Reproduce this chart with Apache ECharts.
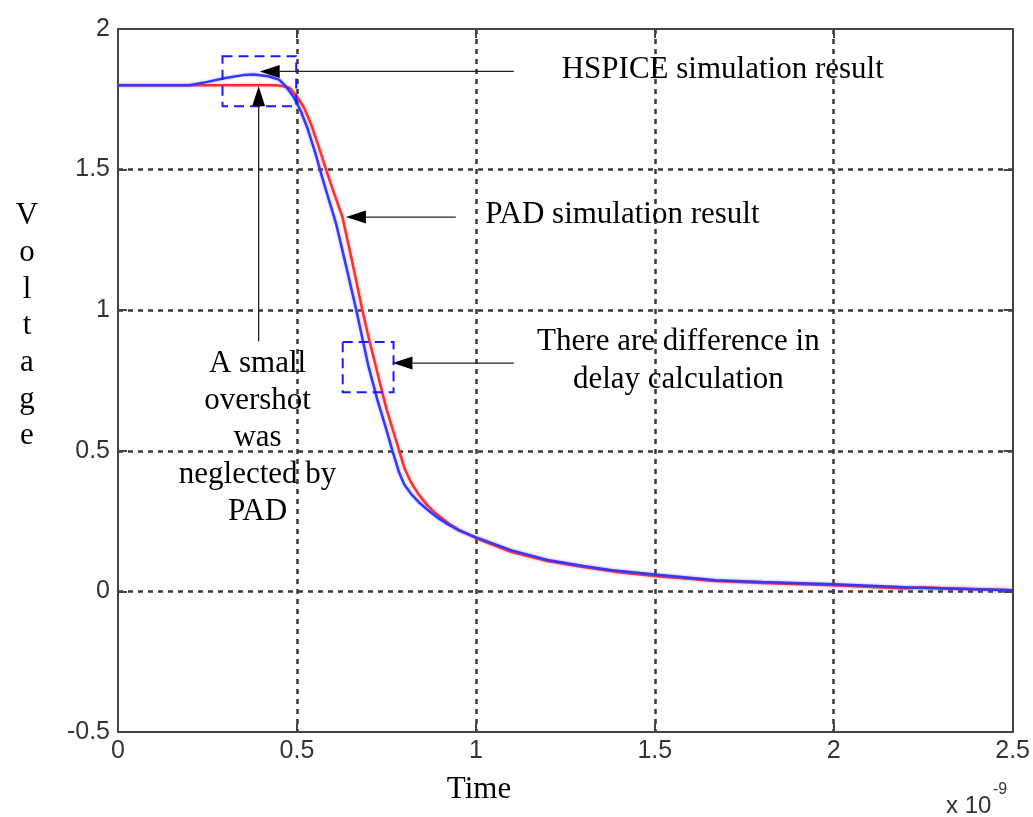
<!DOCTYPE html>
<html>
<head>
<meta charset="utf-8">
<script src="https://cdn.jsdelivr.net/npm/echarts@6/dist/echarts.min.js"></script>
<style>
  html, body { margin: 0; padding: 0; background: #ffffff; }
  #chart { width: 1033px; height: 817px; }
</style>
</head>
<body>
<div id="chart"></div>
<script>
// Axis ranges (time in units of 1e-9 s)
const xTicks = [0, 0.5, 1, 1.5, 2, 2.5];
const yTicks = [-0.5, 0, 0.5, 1, 1.5, 2];

// HSPICE simulation result
const hspiceT = [0, 0.20, 0.25, 0.30, 0.35, 0.38, 0.42, 0.45, 0.47, 0.49, 0.51, 0.53, 0.55, 0.57, 0.59, 0.61, 0.635, 0.665, 0.70, 0.725, 0.75, 0.767, 0.785, 0.80, 0.82, 0.84, 0.865, 0.89, 0.92, 0.953, 1.00, 1.10, 1.20, 1.30, 1.38, 1.50, 1.67, 1.80, 2.00, 2.25, 2.50];
const hspiceV = [1.80, 1.80, 1.812, 1.826, 1.836, 1.838, 1.832, 1.82, 1.795, 1.76, 1.71, 1.645, 1.565, 1.475, 1.39, 1.305, 1.17, 1.005, 0.80, 0.68, 0.575, 0.50, 0.425, 0.38, 0.345, 0.318, 0.29, 0.265, 0.24, 0.217, 0.192, 0.146, 0.112, 0.09, 0.075, 0.06, 0.04, 0.033, 0.025, 0.012, 0.004];

// PAD simulation result
const padT = [0, 0.44, 0.46, 0.48, 0.50, 0.52, 0.54, 0.56, 0.58, 0.60, 0.627, 0.655, 0.682, 0.70, 0.721, 0.75, 0.786, 0.80, 0.818, 0.84, 0.865, 0.89, 0.92, 0.953, 1.00, 1.05, 1.10, 1.20, 1.30, 1.40, 1.50, 1.67, 1.80, 2.00, 2.20, 2.25, 2.30, 2.50];
const padV = [1.80, 1.80, 1.797, 1.79, 1.76, 1.72, 1.66, 1.585, 1.505, 1.43, 1.332, 1.17, 1.005, 0.905, 0.797, 0.65, 0.50, 0.44, 0.39, 0.345, 0.305, 0.275, 0.245, 0.218, 0.19, 0.165, 0.14, 0.108, 0.087, 0.068, 0.055, 0.037, 0.03, 0.022, 0.01, 0.015, 0.012, 0.004];

// Annotation arrows: [fromT, fromV, toT, toV] (arrowhead at "to")
const arrows = [
  [1.106, 1.849, 0.396, 1.849],
  [0.393, 0.889, 0.393, 1.796],
  [0.944, 1.331, 0.637, 1.331],
  [1.106, 0.812, 0.767, 0.812]
];
// Dashed highlight boxes: [t0, v0, t1, v1]
const boxes = [
  [0.292, 1.903, 0.498, 1.725],
  [0.628, 0.887, 0.770, 0.708]
];
// Annotation texts: [text, t, v, align]
const notes = [
  ['HSPICE simulation result', 1.240, 1.855, 'left'],
  ['PAD simulation result', 1.026, 1.340, 'left'],
  ['There are difference in', 1.566, 0.886, 'center'],
  ['delay calculation', 1.566, 0.752, 'center'],
  ['A small', 0.390, 0.810, 'center'],
  ['overshot', 0.390, 0.678, 'center'],
  ['was', 0.390, 0.546, 'center'],
  ['neglected by', 0.390, 0.416, 'center'],
  ['PAD', 0.390, 0.284, 'center']
];
const yName = ['V', 'o', 'l', 't', 'a', 'g', 'e'];

const zip = (a, b) => a.map((v, i) => [v, b[i]]);

const serif = '"Liberation Serif", "Times New Roman", serif';
const sans = '"Liberation Sans", Arial, sans-serif';
const axisColor = '#444';

const chart = echarts.init(document.getElementById('chart'), null, { renderer: 'canvas' });

const baseX = {
  type: 'value', min: xTicks[0], max: xTicks[xTicks.length - 1], interval: 0.5
};
const baseY = {
  type: 'value', min: yTicks[0], max: yTicks[yTicks.length - 1], interval: 0.5
};
const axisLineStyle = { show: true, onZero: false, lineStyle: { color: axisColor, width: 2 } };
const tickStyle = { show: true, inside: true, length: 9, lineStyle: { color: axisColor, width: 2 } };
// dotted grid, interior lines only (frame edges stay solid)
const gridLine = {
  show: true, showMinLine: false, showMaxLine: false,
  lineStyle: { type: [5, 5], color: '#3a3a3a', width: 2.5 }
};
const fmt = v => String(v);

chart.setOption({
  animation: false,
  backgroundColor: '#ffffff',
  grid: { left: 118, right: 18, top: 29, bottom: 85, containLabel: false },
  xAxis: [
    Object.assign({}, baseX, {
      position: 'bottom',
      axisLine: axisLineStyle,
      axisTick: tickStyle,
      axisLabel: { fontFamily: sans, fontSize: 25, color: '#333', margin: 7, formatter: fmt },
      splitLine: gridLine
    }),
    // top frame edge
    Object.assign({}, baseX, {
      position: 'top', z: 10,
      axisLine: axisLineStyle,
      axisTick: tickStyle,
      axisLabel: { show: false },
      splitLine: { show: false }
    })
  ],
  yAxis: [
    Object.assign({}, baseY, {
      position: 'left',
      axisLine: axisLineStyle,
      axisTick: tickStyle,
      axisLabel: { fontFamily: sans, fontSize: 25, color: '#333', margin: 8, formatter: fmt },
      splitLine: gridLine
    }),
    // right frame edge
    Object.assign({}, baseY, {
      position: 'right', z: 10,
      axisLine: axisLineStyle,
      axisTick: tickStyle,
      axisLabel: { show: false },
      splitLine: { show: false }
    })
  ],
  series: [
    {
      name: 'PAD', type: 'line', xAxisIndex: 0, yAxisIndex: 0,
      data: zip(padT, padV), showSymbol: false, smooth: false,
      lineStyle: { color: '#ff2f2f', width: 2.5, shadowColor: 'rgba(255,60,60,0.45)', shadowBlur: 3 },
      z: 3
    },
    {
      name: 'HSPICE', type: 'line', xAxisIndex: 0, yAxisIndex: 0,
      data: zip(hspiceT, hspiceV), showSymbol: false, smooth: false,
      lineStyle: { color: '#3636ff', width: 2.5, shadowColor: 'rgba(70,70,255,0.45)', shadowBlur: 3 },
      z: 4
    }
  ]
});

// Annotations placed in data coordinates
const px = (t, v) => chart.convertToPixel({ gridIndex: 0 }, [t, v]);
const graphics = [];

boxes.forEach(b => {
  const p0 = px(b[0], b[1]);
  const p1 = px(b[2], b[3]);
  graphics.push({
    type: 'rect', z: 100,
    shape: { x: p0[0], y: p0[1], width: p1[0] - p0[0], height: p1[1] - p0[1] },
    style: { fill: null, stroke: '#1a1aff', lineWidth: 2, lineDash: [10, 6] }
  });
});

arrows.forEach(a => {
  const p0 = px(a[0], a[1]);
  const p1 = px(a[2], a[3]);
  const dx = p1[0] - p0[0], dy = p1[1] - p0[1];
  const len = Math.hypot(dx, dy);
  const ux = dx / len, uy = dy / len;
  const headL = 20, headW = 6.5;
  const bx = p1[0] - ux * headL, by = p1[1] - uy * headL;
  graphics.push({
    type: 'line', z: 100,
    shape: { x1: p0[0], y1: p0[1], x2: bx, y2: by },
    style: { stroke: '#222', lineWidth: 1.3 }
  });
  graphics.push({
    type: 'polygon', z: 100,
    shape: { points: [[p1[0], p1[1]], [bx - uy * headW, by + ux * headW], [bx + uy * headW, by - ux * headW]] },
    style: { fill: '#000' }
  });
});

notes.forEach(n => {
  const p = px(n[1], n[2]);
  graphics.push({
    type: 'text', z: 100, x: p[0], y: p[1],
    style: { text: n[0], font: '31px ' + serif, fill: '#000', textAlign: n[3], textVerticalAlign: 'middle' }
  });
});

// Axis titles
yName.forEach((ch, i) => {
  graphics.push({
    type: 'text', z: 100, x: 27, y: 216 + i * 36.7,
    style: { text: ch, font: '31px ' + serif, fill: '#000', textAlign: 'center', textVerticalAlign: 'middle' }
  });
});
graphics.push({
  type: 'text', z: 100, x: 479, y: 790,
  style: { text: 'Time', font: '31px ' + serif, fill: '#000', textAlign: 'center', textVerticalAlign: 'middle' }
});
graphics.push({
  type: 'text', z: 100, x: 946, y: 806,
  style: { text: 'x 10', font: '24px ' + sans, fill: '#333', textAlign: 'left', textVerticalAlign: 'middle' }
});
graphics.push({
  type: 'text', z: 100, x: 993, y: 790,
  style: { text: '-9', font: '16px ' + sans, fill: '#333', textAlign: 'left', textVerticalAlign: 'middle' }
});

chart.setOption({ graphic: graphics });
</script>
</body>
</html>
